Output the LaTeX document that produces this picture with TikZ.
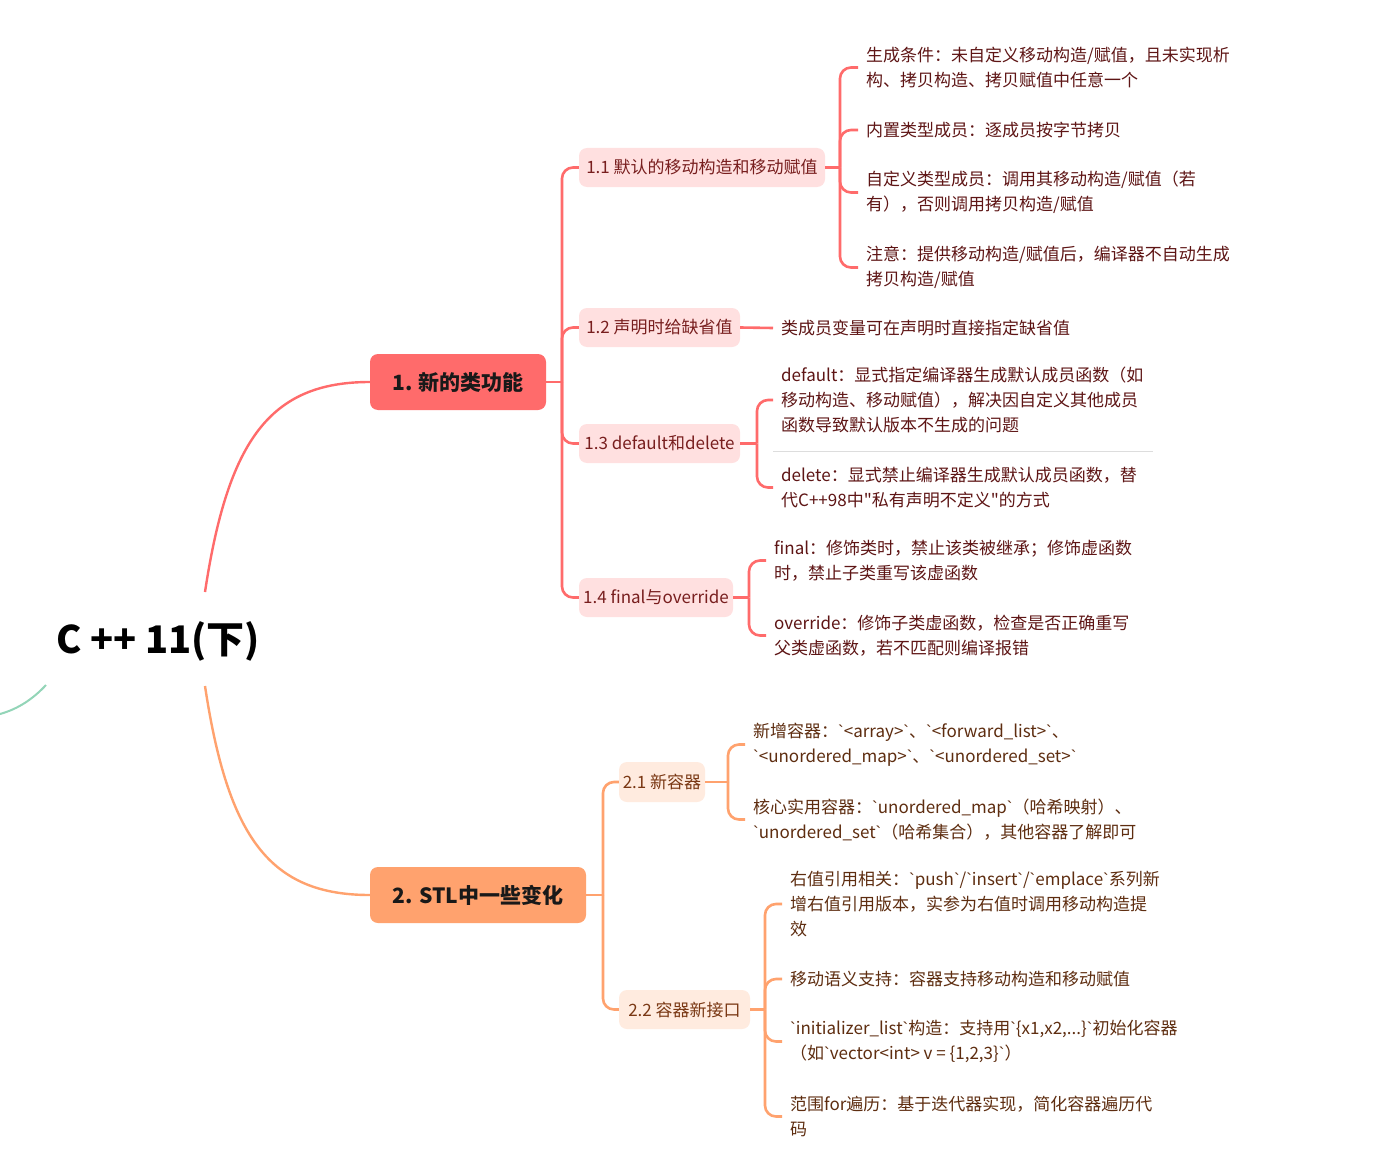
\documentclass[tikz,border=0pt]{standalone}
\usepackage{fontspec}
\newfontfamily\cjk{Noto Sans CJK SC}
\newfontfamily\latf{Liberation Sans}
\newcommand\bq{{\latf`}}
\definecolor{redline}{HTML}{FF6B6B}
\definecolor{orgline}{HTML}{FFA26E}
\definecolor{grnline}{HTML}{93D5B8}
\definecolor{redfill}{HTML}{FFE0E0}
\definecolor{orgfill}{HTML}{FFEBDF}
\definecolor{redtext}{HTML}{5E1515}
\definecolor{orgtext}{HTML}{5E2D10}
\definecolor{redtwo}{HTML}{781E1E}
\definecolor{orgtwo}{HTML}{7A3814}
\definecolor{sepgray}{HTML}{DDDDDD}
\tikzset{
  levelone/.style={rounded corners=8pt, inner sep=0pt, minimum height=56pt, font=\cjk\fontsize{21}{24}\selectfont\bfseries, text=black!90},
  leveltwo/.style={rounded corners=8pt, inner sep=0pt, minimum height=39pt, font=\cjk\fontsize{17}{20}\selectfont},
  leaf/.style={anchor=west, inner xsep=8pt, inner ysep=0pt, align=left, font=\cjk\fontsize{17}{25}\selectfont},
  redc/.style={draw=redline, line width=2.6pt},
  orgc/.style={draw=orgline, line width=2.6pt},
  roundbend/.style={rounded corners=11pt}
}
\begin{document}
\begin{tikzpicture}[x=1pt,y=-1pt]
\useasboundingbox[fill=white] (0,0) rectangle (1379,1153);

% root
\node[font=\cjk\fontsize{38}{40}\selectfont\bfseries, inner sep=0pt] (root) at (158,641) {C ++ 11(下)};
\coordinate (rtop) at (205,592);
\coordinate (rbot) at (205,686);
\coordinate (gA) at (46,685);
\coordinate (gB) at (0,714);
\draw[grnline, line width=2pt] (gA) .. controls (33,699) and (18,709) .. (gB);

% level one
\node[levelone, fill=redline, minimum width=176pt] (n1) at (458,382) {1. 新的类功能};
\node[levelone, fill=orgline, minimum width=216pt] (n2) at (478,895) {2. STL中一些变化};
\draw[redline, line width=2.4pt] (rtop) .. controls (228,440) and (270,382) .. (n1.west);
\draw[orgline, line width=2.4pt] (rbot) .. controls (228,838) and (270,895) .. (n2.west);

% level two red
\node[leveltwo, fill=redfill, text=redtwo, minimum width=246pt] (n11) at (702,167.5) {1.1 默认的移动构造和移动赋值};
\node[leveltwo, fill=redfill, text=redtwo, minimum width=161pt] (n12) at (659.5,327.5) {1.2 声明时给缺省值};
\node[leveltwo, fill=redfill, text=redtwo, minimum width=161pt] (n13) at (659.5,443.5) {1.3 default和delete};
\node[leveltwo, fill=redfill, text=redtwo, minimum width=154pt] (n14) at (656,597.5) {1.4 final与override};
\coordinate (t1) at (562,382);
\draw[redc] (n1.east) -- (t1);
\foreach \c in {n11,n12,n13,n14} { \draw[redc, roundbend] (t1) |- (\c.west); }

% level two orange
\node[leveltwo, fill=orgfill, text=orgtwo, minimum width=86pt, minimum height=40pt] (n21) at (662,782) {2.1 新容器};
\node[leveltwo, fill=orgfill, text=orgtwo, minimum width=131pt] (n22) at (684.5,1009.5) {2.2 容器新接口};
\coordinate (t2) at (603,895);
\draw[orgc] (n2.east) -- (t2);
\foreach \c in {n21,n22} { \draw[orgc, roundbend] (t2) |- (\c.west); }

% leaves 1.x
\begin{scope}[text=redtext]
\node[leaf] (a1) at (858,67.5) {生成条件：未自定义移动构造/赋值，且未实现析\\构、拷贝构造、拷贝赋值中任意一个};
\node[leaf] (a2) at (858,130) {内置类型成员：逐成员按字节拷贝};
\node[leaf] (a3) at (858,192.5) {自定义类型成员：调用其移动构造/赋值（若\\有），否则调用拷贝构造/赋值};
\node[leaf] (a4) at (858,267.5) {注意：提供移动构造/赋值后，编译器不自动生成\\拷贝构造/赋值};
\node[leaf] (b1) at (773,328) {类成员变量可在声明时直接指定缺省值};
\node[leaf] (c1) at (773,400) {default：显式指定编译器生成默认成员函数（如\\移动构造、移动赋值），解决因自定义其他成员\\函数导致默认版本不生成的问题};
\node[leaf] (c2) at (773,487.5) {delete：显式禁止编译器生成默认成员函数，替\\代C++98中"私有声明不定义"的方式};
\node[leaf] (d1) at (766,560.5) {final：修饰类时，禁止该类被继承；修饰虚函数\\时，禁止子类重写该虚函数};
\node[leaf] (d2) at (766,635.5) {override：修饰子类虚函数，检查是否正确重写\\父类虚函数，若不匹配则编译报错};
\end{scope}
\coordinate (j11) at (840,167.5);
\draw[redc] (n11.east) -- (j11);
\foreach \c in {a1,a2,a3,a4} { \draw[redc, roundbend] (j11) |- (\c.west); }
\draw[redc] (n12.east) -- (b1.west);
\coordinate (j13) at (757,443.5);
\draw[redc] (n13.east) -- (j13);
\foreach \c in {c1,c2} { \draw[redc, roundbend] (j13) |- (\c.west); }
\coordinate (sepL) at (773,451);
\coordinate (sepR) at (1153,451);
\draw[sepgray, line width=0.8pt] (sepL) -- (sepR);
\coordinate (j14) at (749,597.5);
\draw[redc] (n14.east) -- (j14);
\foreach \c in {d1,d2} { \draw[redc, roundbend] (j14) |- (\c.west); }

% leaves 2.x
\begin{scope}[text=orgtext]
\node[leaf] (e1) at (745,744.5) {新增容器：\bq<array>\bq、\bq<forward\_list>\bq、\\\bq<unordered\_map>\bq、\bq<unordered\_set>\bq};
\node[leaf] (e2) at (745,819.5) {核心实用容器：\bq unordered\_map\bq（哈希映射）、\\\bq unordered\_set\bq（哈希集合），其他容器了解即可};
\node[leaf] (f1) at (782,904) {右值引用相关：\bq push\bq/\bq insert\bq/\bq emplace\bq 系列新\\增右值引用版本，实参为右值时调用移动构造提\\效};
\node[leaf] (f2) at (782,979) {移动语义支持：容器支持移动构造和移动赋值};
\node[leaf] (f3) at (782,1041.5) {\bq initializer\_list\bq 构造：支持用\bq\{x1,x2,...\}\bq 初始化容器\\（如\bq vector<int> v = \{1,2,3\}\bq）};
\node[leaf] (f4) at (782,1116.5) {范围for遍历：基于迭代器实现，简化容器遍历代\\码};
\end{scope}
\coordinate (j21) at (728,782);
\draw[orgc] (n21.east) -- (j21);
\foreach \c in {e1,e2} { \draw[orgc, roundbend] (j21) |- (\c.west); }
\coordinate (j22) at (765,1009.5);
\draw[orgc] (n22.east) -- (j22);
\foreach \c in {f1,f2,f3,f4} { \draw[orgc, roundbend] (j22) |- (\c.west); }
\end{tikzpicture}
\end{document}
